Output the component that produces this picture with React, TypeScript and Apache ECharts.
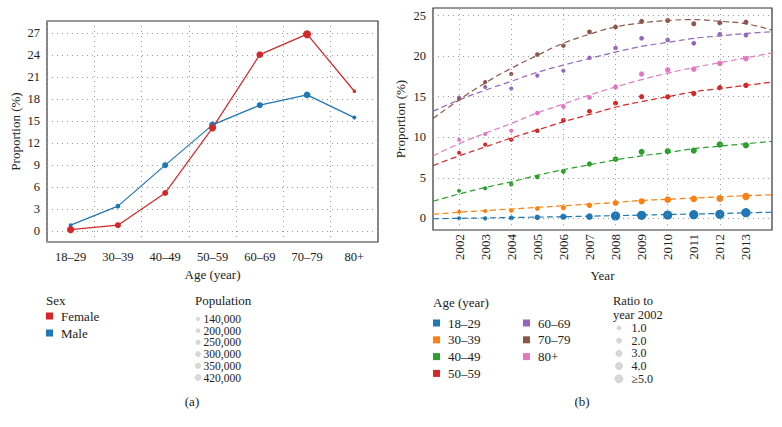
import React, { useEffect, useRef } from 'react';
import * as echarts from 'echarts';

// ---------- Panel (a) data ----------
const ageGroups = ['18–29', '30–39', '40–49', '50–59', '60–69', '70–79', '80+'];
const femaleProportion = [0.2, 0.8, 5.2, 14.1, 24.1, 26.9, 19.1];
const maleProportion = [0.8, 3.4, 9.0, 14.5, 17.2, 18.6, 15.5];
const femalePopulation = [375000, 295000, 295000, 375000, 340000, 420000, 140000];
const malePopulation = [170000, 215000, 295000, 340000, 295000, 340000, 170000];
const leftYTicks = [0, 3, 6, 9, 12, 15, 18, 21, 24, 27];
const populationLegend = [140000, 200000, 250000, 300000, 350000, 420000];

// ---------- Panel (b) data ----------
const years = [2002, 2003, 2004, 2005, 2006, 2007, 2008, 2009, 2010, 2011, 2012, 2013];
const trendYears = [2001, 2002, 2003, 2004, 2005, 2006, 2007, 2008, 2009, 2010, 2011, 2012, 2013, 2014];
const rightYTicks = [0, 5, 10, 15, 20, 25];
const rightXGridYears = [2002, 2004, 2006, 2008, 2010, 2012];

const groupNames = ['18–29', '30–39', '40–49', '50–59', '60–69', '70–79', '80+'];
const groupColors = ['#1f77b4', '#ff7f0e', '#2ca02c', '#d62728', '#9467bd', '#8c564b', '#e377c2'];

const prop18_29 = [0.0, 0.0, 0.05, 0.12, 0.2, 0.2, 0.3, 0.37, 0.4, 0.45, 0.5, 0.7];
const prop30_39 = [0.8, 0.9, 0.95, 1.2, 1.3, 1.6, 1.9, 2.1, 2.3, 2.4, 2.45, 2.7];
const prop40_49 = [3.4, 3.7, 4.2, 5.1, 5.8, 6.7, 7.3, 8.2, 8.3, 8.35, 9.1, 9.0];
const prop50_59 = [8.1, 9.1, 9.7, 10.8, 12.1, 13.2, 14.2, 15.0, 15.0, 15.4, 16.1, 16.4];
const prop60_69 = [14.9, 16.2, 16.0, 17.6, 18.2, 19.8, 21.0, 22.2, 22.0, 21.6, 22.7, 22.6];
const prop70_79 = [14.7, 16.8, 17.8, 20.2, 21.3, 23.0, 23.6, 24.3, 24.4, 24.0, 24.1, 24.2];
const prop80plus = [9.7, 10.4, 10.8, 13.0, 13.8, 14.9, 16.2, 17.8, 18.3, 18.4, 19.1, 19.7];

const ratio18_29 = [1.0, 1.2, 1.6, 2.2, 2.8, 3.0, 5.0, 5.0, 5.0, 5.0, 5.0, 5.0];
const ratio30_39 = [1.0, 1.1, 1.3, 1.5, 1.8, 2.1, 2.4, 2.7, 3.0, 3.1, 3.2, 3.6];
const ratio40_49 = [1.0, 1.1, 1.3, 1.5, 1.7, 2.0, 2.2, 2.5, 2.6, 2.7, 2.9, 2.8];
const ratio50_59 = [1.0, 1.1, 1.2, 1.35, 1.5, 1.6, 1.75, 1.85, 1.9, 1.95, 2.05, 2.1];
const ratio60_69 = [1.0, 1.05, 1.05, 1.1, 1.2, 1.3, 1.4, 1.5, 1.5, 1.5, 1.6, 1.6];
const ratio70_79 = [1.0, 1.1, 1.2, 1.35, 1.45, 1.55, 1.6, 1.7, 1.75, 1.75, 1.8, 1.85];
const ratio80plus = [1.0, 1.1, 1.15, 1.4, 1.5, 1.6, 1.8, 2.0, 2.1, 2.1, 2.2, 2.3];

const trend18_29 = [-0.05, 0.0, 0.05, 0.1, 0.15, 0.2, 0.27, 0.33, 0.4, 0.47, 0.53, 0.6, 0.68, 0.75];
const trend30_39 = [0.5, 0.75, 0.95, 1.15, 1.35, 1.55, 1.75, 1.95, 2.2, 2.35, 2.5, 2.65, 2.8, 2.9];
const trend40_49 = [2.1, 3.0, 3.8, 4.5, 5.3, 6.0, 6.6, 7.2, 7.7, 8.1, 8.6, 8.9, 9.2, 9.5];
const trend50_59 = [6.5, 7.7, 8.8, 9.9, 10.9, 11.9, 12.8, 13.7, 14.4, 15.0, 15.6, 16.0, 16.4, 16.8];
const trend60_69 = [13.2, 14.6, 15.8, 16.9, 18.0, 18.9, 19.7, 20.5, 21.2, 21.7, 22.2, 22.5, 22.8, 23.0];
const trend70_79 = [12.3, 14.6, 16.7, 18.5, 20.1, 21.6, 22.7, 23.6, 24.1, 24.4, 24.5, 24.3, 24.0, 23.2];
const trend80plus = [7.7, 9.2, 10.5, 11.7, 13.0, 14.1, 15.2, 16.2, 17.1, 17.9, 18.6, 19.2, 19.8, 20.4];

const ratioLegendValues = [1, 2, 3, 4, 5];
const ratioLegendLabels = ['1.0', '2.0', '3.0', '4.0', '≥5.0'];

const groupProps = [prop18_29, prop30_39, prop40_49, prop50_59, prop60_69, prop70_79, prop80plus];
const groupRatios = [ratio18_29, ratio30_39, ratio40_49, ratio50_59, ratio60_69, ratio70_79, ratio80plus];
const groupTrends = [trend18_29, trend30_39, trend40_49, trend50_59, trend60_69, trend70_79, trend80plus];

const FONT = 'Liberation Serif';
const TEXT = '#222';
const GRID_LINE = { color: '#9a9a9a', width: 1, type: [1, 4] as number[] };

const popSize = (p: number) => 3.5 + ((p - 140000) / 280000) * 4.5;
const ratioSize = (r: number) => 4 + (Math.min(r, 5) - 1) * 1.3;

export default function App() {
  const ref = useRef<HTMLDivElement>(null);
  useEffect(() => {
    document.body.style.margin = '0';
    const chart = echarts.init(ref.current!, null, { renderer: 'svg' });

    const txt = (text: string, x: number, y: number, size = 13, align = 'left') => ({
      type: 'text',
      x,
      y,
      style: { text, fill: TEXT, fontSize: size, fontFamily: FONT, align, verticalAlign: 'middle' },
    });

    const graphics: any[] = [];
    // Legend (a)
    graphics.push(txt('Sex', 46, 300));
    [['Female', '#d62728', 316], ['Male', '#1f77b4', 333]].forEach(([n, c, y]: any) => {
      graphics.push({ type: 'rect', shape: { x: 46, y: y - 3.5, width: 7, height: 7 }, style: { fill: c } });
      graphics.push(txt(n, 61, y));
    });
    graphics.push(txt('Population', 195, 300));
    populationLegend.forEach((p, i) => {
      const y = 319 + i * 11.7;
      graphics.push({
        type: 'circle',
        shape: { cx: 198, cy: y, r: (3.3 + ((p - 140000) / 280000) * 2.7) / 2 },
        style: { fill: '#d9d9d9', stroke: '#c4c4c4', lineWidth: 0.6 },
      });
      graphics.push(txt(p.toLocaleString('en-US'), 203.5, y, 11.5));
    });
    graphics.push(txt('(a)', 192, 401, 13, 'center'));

    // Legend (b)
    graphics.push(txt('Age (year)', 433, 302));
    groupNames.forEach((n, i) => {
      const col = i < 4 ? 0 : 1;
      const row = i < 4 ? i : i - 4;
      const y = 323 + row * 16.8;
      const sx = col === 0 ? 433 : 523;
      graphics.push({ type: 'rect', shape: { x: sx, y: y - 3.5, width: 7, height: 7 }, style: { fill: groupColors[i] } });
      graphics.push(txt(n, sx + 15, y));
    });
    graphics.push(txt('Ratio to', 613, 301, 12.5));
    graphics.push(txt('year 2002', 613, 314.5, 12.5));
    ratioLegendValues.forEach((v, i) => {
      const y = 328 + i * 12.7;
      graphics.push({
        type: 'circle',
        shape: { cx: 619, cy: y, r: (4 + (v - 1) * 1.0) / 2 },
        style: { fill: '#d9d9d9', stroke: '#c4c4c4', lineWidth: 0.6 },
      });
      graphics.push(txt(ratioLegendLabels[i], 631.5, y, 12));
    });
    graphics.push(txt('(b)', 582, 401, 13, 'center'));

    const series: any[] = [
      {
        type: 'line',
        xAxisIndex: 0,
        yAxisIndex: 0,
        data: maleProportion.map((v, i) => [i, v, malePopulation[i]]),
        symbol: 'circle',
        symbolSize: (d: number[]) => popSize(d[2]),
        lineStyle: { color: '#1f77b4', width: 1.2 },
        itemStyle: { color: '#1f77b4' },
      },
      {
        type: 'line',
        xAxisIndex: 0,
        yAxisIndex: 0,
        data: femaleProportion.map((v, i) => [i, v, femalePopulation[i]]),
        symbol: 'circle',
        symbolSize: (d: number[]) => popSize(d[2]),
        lineStyle: { color: '#d62728', width: 1.2 },
        itemStyle: { color: '#d62728' },
      },
      {
        type: 'line',
        xAxisIndex: 1,
        yAxisIndex: 1,
        data: [],
        silent: true,
        markLine: {
          silent: true,
          symbol: 'none',
          label: { show: false },
          lineStyle: GRID_LINE,
          data: rightXGridYears.map((y) => ({ xAxis: y })),
        },
      },
    ];
    groupNames.forEach((n, i) => {
      series.push({
        type: 'line',
        xAxisIndex: 1,
        yAxisIndex: 1,
        data: trendYears.map((y, k) => [y, groupTrends[i][k]]),
        smooth: true,
        showSymbol: false,
        symbol: 'none',
        lineStyle: { color: groupColors[i], width: 1.2, type: [6, 3.5] },
        z: 3,
      });
    });
    groupNames.forEach((n, i) => {
      series.push({
        type: 'scatter',
        name: n,
        xAxisIndex: 1,
        yAxisIndex: 1,
        data: years.map((y, k) => [y, groupProps[i][k], groupRatios[i][k]]),
        symbolSize: (d: number[]) => ratioSize(d[2]),
        itemStyle: { color: groupColors[i], opacity: 1 },
        z: 4,
      });
    });

    const axisLabelBase = { color: TEXT, fontFamily: FONT, fontSize: 12.5 };
    const nameBase = { color: TEXT, fontFamily: FONT, fontSize: 13 };

    chart.setOption({
      animation: false,
      backgroundColor: '#fff',
      textStyle: { fontFamily: FONT },
      grid: [
        { left: 47, top: 21, width: 331, height: 221, show: true, borderColor: '#333', borderWidth: 1.2, backgroundColor: 'transparent' },
        { left: 433, top: 8, width: 339, height: 222, show: true, borderColor: '#333', borderWidth: 1.2, backgroundColor: 'transparent' },
      ],
      xAxis: [
        {
          gridIndex: 0,
          type: 'category',
          data: ageGroups,
          boundaryGap: true,
          axisLine: { show: false },
          axisTick: { show: false },
          axisLabel: { ...axisLabelBase, margin: 8, interval: 0 },
          splitLine: { show: true, interval: 0, lineStyle: GRID_LINE },
          name: 'Age (year)',
          nameLocation: 'middle',
          nameGap: 24,
          nameTextStyle: nameBase,
        },
        {
          gridIndex: 1,
          type: 'value',
          min: 2001,
          max: 2014,
          interval: 1,
          axisLine: { show: false },
          axisTick: { show: false },
          axisLabel: {
            ...axisLabelBase,
            fontSize: 13,
            rotate: 90,
            margin: 4,
            formatter: (v: number) => (v <= 2001 || v >= 2014 ? '' : String(v)),
          },
          splitLine: { show: false },
          name: 'Year',
          nameLocation: 'middle',
          nameGap: 39,
          nameTextStyle: nameBase,
        },
      ],
      yAxis: [
        {
          gridIndex: 0,
          type: 'value',
          min: -1.5,
          max: 28.7,
          axisLine: { show: false },
          axisTick: { show: false, customValues: leftYTicks },
          axisLabel: { ...axisLabelBase, margin: 7, customValues: leftYTicks },
          splitLine: { show: true, lineStyle: GRID_LINE },
          name: 'Proportion (%)',
          nameLocation: 'middle',
          nameGap: 25,
          nameTextStyle: nameBase,
        },
        {
          gridIndex: 1,
          type: 'value',
          min: -1.44,
          max: 25.94,
          axisLine: { show: false },
          axisTick: { show: false, customValues: rightYTicks },
          axisLabel: { ...axisLabelBase, margin: 7, customValues: rightYTicks },
          splitLine: { show: true, lineStyle: GRID_LINE },
          name: 'Proportion (%)',
          nameLocation: 'middle',
          nameGap: 26,
          nameTextStyle: nameBase,
        },
      ],
      series,
      graphic: graphics,
    });
    return () => chart.dispose();
  }, []);
  return <div ref={ref} style={{ width: 782, height: 427, background: '#fff' }} />;
}
